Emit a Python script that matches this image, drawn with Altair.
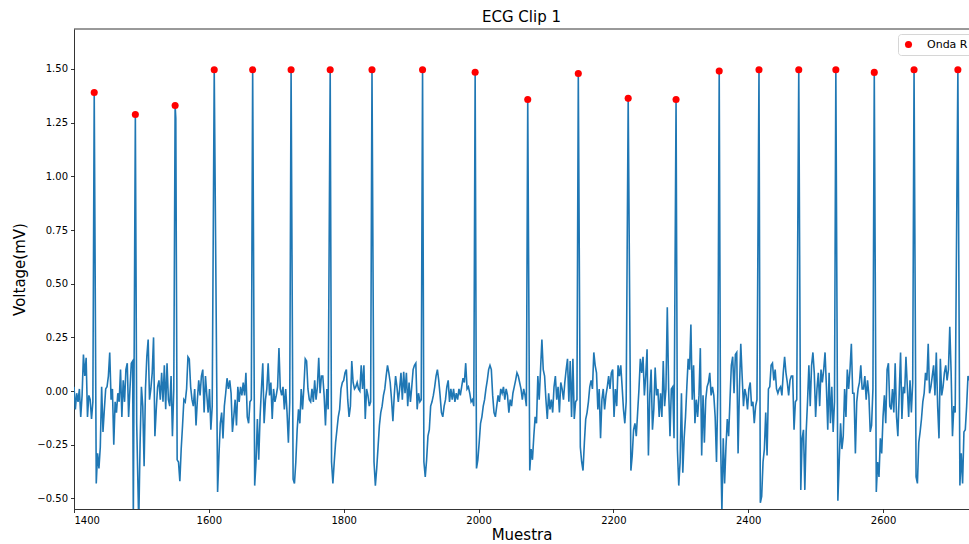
import altair as alt
import pandas as pd

# R-peak positions (sample index) and amplitudes (mV)
picos_x = [1430, 1491, 1550, 1608, 1665, 1722, 1780, 1842, 1917, 1995, 2073,
           2148, 2222, 2293, 2357, 2416, 2475, 2530, 2587, 2646, 2711]
picos_v = [1.39, 1.288, 1.33, 1.496, 1.496, 1.496, 1.496, 1.496, 1.496, 1.485, 1.358,
           1.479, 1.363, 1.358, 1.490, 1.496, 1.496, 1.496, 1.484, 1.496, 1.496]

# signal between R peaks: start sample of each stretch, values every 2 samples
inicio_tramos = [1400, 1433, 1500, 1553, 1613, 1668, 1725, 1782, 1845, 1919, 1997,
                 2076, 2151, 2226, 2295, 2359, 2418, 2478, 2533, 2590, 2649, 2714]
tramos = [
    [0.02, -0.085, -0.01, -0.05, 0.01, -0.12, -0.02, 0.17, 0.07, 0.155, -0.12, -0.02, -0.04, -0.13, -0.05],
    [-0.43, -0.29, -0.36, -0.26, 0.02, -0.19, -0.085, 0.01, 0.02, 0.07, 0.18, -0.04, 0.01, -0.25, -0.05,
     -0.10, -0.01, -0.05, 0.10, -0.12, 0.05, -0.05, 0.10, 0.13, -0.12, 0.01, 0.13, 0.14],
    [0.02, -0.07, -0.35, 0.01, 0.16, 0.24, -0.04, 0.01, 0.085, 0.25, -0.21, -0.085, 0.02, 0.05, -0.04,
     0.085, -0.05, 0.12, -0.085, 0.13, -0.04, -0.07, 0.07, -0.21, 0.01],
    [-0.32, -0.33, -0.42, -0.27, -0.16, -0.04, -0.05, 0.01, 0.16, 0.15, 0.02, -0.04, -0.07, 0.01, -0.16,
     -0.04, 0.05, -0.02, 0.07, 0.10, -0.10, 0.07, -0.02, -0.10, 0.01, -0.18, -0.07],
    [-0.47, -0.30, -0.15, -0.10, -0.22, -0.07, -0.01, 0.06, 0.01, 0.05, -0.01, -0.19, -0.12, -0.04, -0.16,
     0.02, -0.05, 0.02, -0.02, 0.04, -0.02, 0.085, -0.12, -0.15, -0.05, -0.04],
    [-0.44, -0.33, -0.13, -0.32, -0.12, 0.01, 0.13, -0.15, -0.04, 0.01, 0.13, -0.02, 0.04, -0.13, 0.01,
     -0.05, -0.02, 0.02, 0.20, 0.01, -0.02, 0.02, -0.085, 0.01, -0.10, -0.24, -0.05],
    [-0.41, -0.43, -0.33, -0.18, -0.085, -0.15, 0.01, -0.085, 0.02, 0.15, 0.14, 0.01, -0.04, -0.05, 0.01,
     -0.05, 0.05, -0.04, 0.02, 0.155, -0.01, 0.07, 0.07, -0.02, -0.16, 0.01, -0.085],
    [-0.33, -0.43, -0.33, -0.24, -0.18, -0.12, -0.085, 0.01, 0.04, 0.05, 0.085, 0.10, -0.04, -0.12, -0.07,
     0.14, 0.04, 0.01, 0.02, 0.04, 0.01, 0.0, 0.12, 0.01, 0.12, -0.13, 0.01, -0.02, -0.07, -0.05],
    [-0.33, -0.44, -0.36, -0.26, -0.16, -0.10, -0.07, -0.02, 0.01, 0.07, 0.12, 0.085, 0.04, -0.04, -0.14,
     -0.02, 0.07, 0.02, -0.05, 0.01, 0.085, -0.04, 0.09, -0.01, 0.085, -0.07, 0.04, -0.05, 0.02, 0.10,
     0.12, 0.13, -0.085, -0.01, -0.05, -0.04],
    [-0.33, -0.40, -0.32, -0.21, -0.18, -0.07, -0.05, -0.02, 0.02, 0.07, 0.10, 0.05, -0.02, -0.10, -0.12,
     -0.07, -0.04, 0.02, 0.05, -0.05, 0.01, -0.04, 0.01, -0.05, -0.01, -0.04, 0.01, -0.02, 0.02, 0.06,
     0.04, 0.13, 0.01, 0.02, -0.01, -0.05, -0.04, -0.07],
    [-0.36, -0.32, -0.24, -0.15, -0.12, -0.07, -0.04, 0.01, 0.05, 0.10, 0.12, 0.10, -0.02, -0.10, -0.12,
     -0.07, -0.02, -0.05, 0.01, -0.01, 0.02, -0.04, 0.01, -0.02, -0.10, -0.04, -0.07, -0.01, 0.02, 0.05,
     0.085, 0.07, 0.04, 0.01, -0.04, 0.01, -0.02, -0.07],
    [-0.37, -0.27, -0.32, -0.21, -0.12, -0.15, 0.07, -0.04, 0.10, 0.24, 0.10, 0.07, -0.04, -0.13, -0.01,
     -0.085, -0.04, -0.10, 0.02, 0.07, -0.04, 0.02, -0.10, 0.04, 0.01, -0.04, 0.04, 0.10, 0.15, -0.05,
     0.14, -0.12, 0.15, -0.13, -0.05, -0.04],
    [-0.26, -0.33, -0.37, -0.24, -0.13, -0.10, -0.05, 0.02, 0.05, 0.01, 0.18, 0.12, 0.085, -0.085, 0.01,
     -0.22, -0.04, 0.01, -0.085, -0.02, 0.02, 0.07, 0.01, 0.085, 0.10, -0.12, 0.01, -0.07, 0.12, 0.07,
     0.12, 0.02, -0.085, -0.15, -0.05],
    [-0.37, -0.30, -0.18, -0.15, -0.21, -0.10, 0.01, 0.15, 0.085, 0.16, -0.02, 0.07, 0.195, -0.30, -0.02,
     0.10, -0.18, -0.085, 0.11, -0.02, 0.01, -0.12, -0.01, -0.12, 0.14, -0.07, 0.01, 0.39, 0.01, -0.21,
     0.01, 0.02, -0.22],
    [-0.27, -0.44, -0.33, -0.01, -0.38, -0.22, -0.12, 0.02, 0.15, 0.10, 0.31, -0.04, 0.12, -0.15, -0.04,
     -0.12, -0.02, 0.20, -0.30, -0.02, -0.24, -0.04, 0.02, 0.04, 0.085, -0.02, 0.02, -0.02, -0.12, -0.33,
     0.01],
    [-0.22, -0.56, -0.22, -0.43, -0.26, -0.13, -0.21, -0.04, 0.12, 0.16, -0.01, 0.17, 0.18, -0.29, 0.01,
     0.22, 0.07, -0.07, 0.01, -0.02, -0.085, 0.01, 0.04, -0.07, -0.05, -0.15, -0.07, -0.04],
    [-0.52, -0.49, -0.33, -0.27, -0.10, -0.30, 0.01, 0.02, 0.12, 0.13, 0.05, 0.10, 0.01, -0.01, 0.01,
     0.02, -0.02, 0.085, 0.16, 0.085, 0.04, -0.02, 0.05, 0.07, 0.07, -0.18, -0.05, -0.04],
    [-0.46, -0.22, -0.18, -0.46, -0.19, -0.05, 0.12, -0.07, 0.12, 0.18, 0.085, -0.12, 0.01, 0.085, -0.07,
     0.10, 0.04, 0.10, 0.18, 0.02, -0.18, 0.085, -0.15, 0.02, -0.19, -0.05],
    [-0.51, -0.33, -0.15, -0.27, -0.21, 0.01, -0.12, 0.10, 0.01, 0.10, 0.22, -0.01, -0.01, -0.29, -0.05,
     0.01, 0.04, 0.12, 0.01, 0.01, 0.07, -0.04, 0.05, -0.02, -0.19, -0.16, 0.01],
    [-0.47, -0.33, -0.40, -0.22, -0.29, -0.12, -0.02, -0.15, 0.10, 0.13, -0.07, -0.085, 0.01, -0.10, 0.13,
     -0.12, -0.21, -0.01, 0.18, -0.13, 0.02, -0.01, 0.16, 0.02, -0.12, 0.05, -0.10, 0.04],
    [-0.40, -0.43, -0.24, -0.19, -0.13, -0.05, -0.01, 0.085, 0.05, 0.22, -0.01, 0.02, 0.07, 0.12, -0.02,
     0.18, -0.07, -0.22, 0.15, -0.02, 0.02, 0.085, 0.12, 0.05, 0.10, 0.30, 0.085, -0.21, -0.07, -0.10],
    [-0.44, -0.29, -0.43, -0.19, -0.18, -0.07, 0.07, 0.05],
]
# extra samples around the QRS complexes (Q/S dips and a double-sample peak)
extra_x = [1488, 1493, 1496, 1498, 1551]
extra_v = [-0.60, -0.15, -0.62, -0.25, 1.27]

y_ticks = [-0.5, -0.25, 0.0, 0.25, 0.5, 0.75, 1.0, 1.25, 1.5]
x_ticks = [1400, 1600, 1800, 2000, 2200, 2400, 2600]

rows = []
for start, vals in zip(inicio_tramos, tramos):
    for i, v in enumerate(vals):
        rows.append((start + 2 * i, v))
rows += list(zip(extra_x, extra_v))
rows += list(zip(picos_x, picos_v))
senal = pd.DataFrame(rows, columns=["Muestra", "Voltaje"]).sort_values("Muestra")
picos = pd.DataFrame({"Muestra": picos_x, "Voltaje": picos_v, "serie": ["Onda R"] * len(picos_x)})

W, H = 895, 480
FONT = "DejaVu Sans"

xs = alt.Scale(domain=[1400, 2727.5], nice=False, zero=False)
ys = alt.Scale(domain=[-0.549, 1.686], nice=False, zero=False)

x_axis = alt.Axis(values=x_ticks, format="d", title="Muestra", grid=False)
y_axis = alt.Axis(values=y_ticks, format=".2f", title="Voltage(mV)", grid=False)

linea = alt.Chart(senal).mark_line(color="#1f77b4", strokeWidth=1.6, clip=True).encode(
    x=alt.X("Muestra:Q", scale=xs, axis=x_axis),
    y=alt.Y("Voltaje:Q", scale=ys, axis=y_axis),
)

puntos = alt.Chart(picos).mark_point(filled=True, size=50, opacity=1).encode(
    x=alt.X("Muestra:Q", scale=xs),
    y=alt.Y("Voltaje:Q", scale=ys),
    color=alt.Color(
        "serie:N",
        scale=alt.Scale(domain=["Onda R"], range=["#ff0000"]),
        legend=alt.Legend(
            title=None, orient="none", legendX=824, legendY=5,
            strokeColor="#d6d6d6", fillColor="white", padding=5, cornerRadius=3,
            labelFont=FONT, labelFontSize=11, labelColor="black", labelOffset=13,
            symbolType="circle", symbolSize=50, symbolStrokeWidth=0,
        ),
    ),
)

borde = alt.Chart(pd.DataFrame({"a": [0]})).mark_rule(color="black", strokeWidth=0.8).encode(
    x=alt.value(0), x2=alt.value(W), y=alt.value(0)
)

chart = (
    alt.layer(linea, puntos, borde)
    .properties(
        width=W, height=H,
        title=alt.TitleParams("ECG Clip 1", font=FONT, fontSize=15, fontWeight="normal",
                              color="black", offset=4),
        autosize=alt.AutoSizeParams(type="none"),
        padding={"left": 74, "top": 29, "right": 0, "bottom": 35},
    )
    .configure_view(stroke=None)
    .configure_axis(
        labelFont=FONT, labelFontSize=10, labelColor="black",
        titleFont=FONT, titleFontSize=15, titleFontWeight="normal", titleColor="black",
        tickSize=3.5, tickColor="black", tickWidth=0.8,
        domainColor="black", domainWidth=0.8, labelPadding=3,
    )
    .configure_axisY(titlePadding=9)
    .configure_axisX(titlePadding=2)
)

chart.save("out.html", embed_options={"renderer": "svg", "actions": False})
